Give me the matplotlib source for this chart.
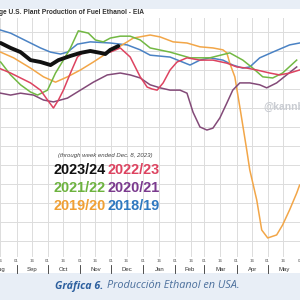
import matplotlib
matplotlib.use("Agg")
import matplotlib.pyplot as plt
from matplotlib.patches import Rectangle
from matplotlib.transforms import blended_transform_factory

# x = days since Aug 1, y = thousand barrels/day (4-week average)
days_2324 = [15.6, 25.2, 34.8, 44.4, 54, 63.7, 71.3, 82.9, 92.5, 102, 111.7, 116.5, 121.3, 129]
vals_2324 = [1071, 1058, 1047, 1026, 1021, 1013, 1026, 1037, 1045, 1050, 1045, 1042, 1053, 1063]

days_2223 = [15.6, 25.2, 34.8, 44.4, 54, 60.8, 66.5, 71.3, 76.1, 82.9, 89.6, 95.3, 108.8, 114.5,
             121.3, 130.9, 140.5, 150.1, 156.8, 161.6, 166.4, 172.2, 178.9, 185.6, 195.2, 207.7,
             220.2, 233.6, 243.2, 252.8, 262.4, 274.9, 284.5, 294.1, 303.7]
vals_2223 = [1003, 992, 979, 966, 947, 921, 900, 921, 947, 992, 1034, 1047, 1047, 1045,
             1047, 1058, 1034, 982, 955, 950, 947, 966, 1000, 1021, 1032, 1026,
             1026, 1018, 1008, 1005, 1000, 992, 987, 992, 1000]

days_2122 = [15.6, 25.2, 34.8, 44.4, 51.2, 60.8, 68.5, 76.1, 82.9, 90.5, 100.1, 106.9, 114.5,
             121.3, 130.9, 140.5, 150.1, 159.7, 178.9, 198.1, 217.3, 236.4, 249, 258.6,
             268.2, 277.8, 287.3, 300.9]
vals_2122 = [1021, 987, 961, 942, 934, 947, 992, 1026, 1058, 1103, 1097, 1079, 1074,
             1084, 1089, 1089, 1079, 1058, 1047, 1032, 1032, 1045, 1026, 1005,
             982, 979, 992, 1026]

days_2021 = [15.6, 25.2, 34.8, 47.3, 56.9, 66.5, 80, 92.5, 105, 118.4, 130.9, 140.5, 150.1,
             159.7, 169.3, 178.9, 188.5, 195.2, 201, 207.7, 214.4, 220.2, 226.9, 233.6,
             239.3, 246.1, 255.7, 265.3, 272, 281.6, 291.2, 300.9]
vals_2021 = [939, 934, 939, 934, 921, 916, 926, 947, 968, 987, 992, 987, 979,
             961, 953, 947, 947, 939, 889, 850, 842, 847, 874, 913,
             947, 966, 966, 961, 953, 966, 987, 1008]

days_1920 = [15.6, 28.1, 44.4, 56.9, 68.5, 80, 92.5, 105, 118.4, 128, 137.6, 143.4, 159.7,
             169.3, 181.8, 195.2, 207.7, 220.2, 229.8, 233.6, 236.4, 241.3, 246.1, 252.8,
             255.7, 262.4, 267.2, 273, 281.6, 287.3, 294.1, 300.9, 303.7]
vals_1920 = [1047, 1032, 1005, 982, 968, 982, 1000, 1021, 1045, 1058, 1074, 1084, 1092,
             1087, 1074, 1071, 1061, 1058, 1053, 1045, 1018, 982, 903, 789,
             737, 658, 579, 558, 566, 592, 632, 676, 697]

days_1819 = [15.6, 25.2, 34.8, 44.4, 54, 63.7, 73.3, 80, 89.6, 102, 121.3, 137.6, 150.1,
             159.7, 178.9, 198.1, 207.7, 217.3, 229.8, 239.3, 249, 255.7, 265.3, 277.8,
             294.1, 303.7]
vals_1819 = [1105, 1097, 1084, 1071, 1058, 1047, 1042, 1047, 1068, 1074, 1071, 1066, 1053,
             1039, 1034, 1013, 1026, 1032, 1026, 1013, 1005, 1008, 1032, 1047,
             1066, 1071]

season_labels = ["2023/24", "2022/23", "2021/22", "2020/21", "2019/20", "2018/19"]
tick_days = [15, 31, 46, 61, 76, 92, 107, 122, 137, 153, 168, 184, 199, 212, 227, 243, 258, 273, 288, 304]
tick_labels = ["16", "01", "16", "01", "16", "01", "16", "01", "16", "01", "16", "01", "16", "01",
               "16", "01", "16", "01", "16", "01"]
month_starts = [0, 31, 61, 92, 122, 153, 184, 212, 243, 273, 304]
month_names = ["Aug", "Sep", "Oct", "Nov", "Dec", "Jan", "Feb", "Mar", "Apr", "May"]

c_2324 = "#111111"
c_2223 = "#dd4360"
c_2122 = "#72b843"
c_2021 = "#834a78"
c_1920 = "#f2a648"
c_1819 = "#4a82c4"

fig = plt.figure(figsize=(3, 3), dpi=100)
fig.patch.set_facecolor("white")
band = "#e8eef6"
fig.add_artist(Rectangle((0, 1 - 9 / 300), 1, 9 / 300, transform=fig.transFigure,
                         facecolor=band, edgecolor="none", zorder=0))
fig.add_artist(Rectangle((0, 0), 1, 27 / 300, transform=fig.transFigure,
                         facecolor=band, edgecolor="none", zorder=0))

ax = fig.add_axes([0, 43 / 300, 1, 239 / 300])
ax.set_facecolor("white")
ax.set_xlim(15.6, 304.1)
ax.set_ylim(507.9, 1136.8)
for s in ax.spines.values():
    s.set_visible(False)

ax.set_xticks(tick_days)
ax.set_xticklabels(tick_labels, fontsize=3.2, color="#555555", family="Liberation Sans")
ax.tick_params(axis="x", length=0, pad=1.5)
ax.set_yticks(range(550, 1150, 50))
ax.tick_params(axis="y", length=0, labelleft=False)
ax.grid(True, color="#dcdcdc", lw=0.7)
ax.set_axisbelow(True)

tr = blended_transform_factory(ax.transData, ax.transAxes)
for i, name in enumerate(month_names):
    mid = (month_starts[i] + month_starts[i + 1]) / 2
    ax.text(mid, -0.052, name, transform=tr, ha="center", va="center", fontsize=4.3,
            color="#333333", family="Liberation Sans", clip_on=False)
for d in month_starts[1:]:
    ax.plot([d, d], [-0.035, -0.065], transform=tr, color="#333333", lw=0.6, clip_on=False)

lw_thin = 1.1
ax.plot(days_1819, vals_1819, color=c_1819, lw=lw_thin, zorder=3)
ax.plot(days_1920, vals_1920, color=c_1920, lw=lw_thin, zorder=3)
ax.plot(days_2021, vals_2021, color=c_2021, lw=lw_thin, zorder=3)
ax.plot(days_2122, vals_2122, color=c_2122, lw=lw_thin, zorder=3)
ax.plot(days_2223, vals_2223, color=c_2223, lw=lw_thin, zorder=4)
ax.plot(days_2324, vals_2324, color=c_2324, lw=2.8, zorder=5, solid_capstyle="round")

# legend-like text block
fig.text(58 / 300, 1 - 156 / 300, "(through week ended Dec. 8, 2023)", fontsize=4.3,
         style="italic", color="#444444", family="Liberation Sans", va="center")
colors = [c_2324, c_2223, "#6db33f", "#7b3a8e", "#f0a035", "#2f78c0"]
xs = [53, 107]
ys = [170, 188, 206]
for i, (lab, col) in enumerate(zip(season_labels, colors)):
    fig.text(xs[i % 2] / 300, 1 - ys[i // 2] / 300, lab, fontsize=10.4, fontweight="bold",
             color=col, family="Liberation Sans", va="center")

fig.text(263 / 300, 1 - 107 / 300, "@kannbis", fontsize=7.5, fontweight="bold",
         color="#c9ccd2", family="Liberation Sans", va="center")

fig.text(-1 / 300, 1 - 13 / 300, "ge U.S. Plant Production of Fuel Ethanol - EIA", fontsize=4.8,
         fontweight="bold", color="#333333", family="Liberation Sans", va="center")

fig.text(55 / 300, 1 - 286 / 300, "Gráfica 6.", fontsize=7.7, fontweight="bold",
         style="italic", color="#2c5f9e", family="Open Sans", va="center")
fig.text(107 / 300, 1 - 286 / 300, "Producción Ethanol en USA.", fontsize=7.8,
         style="italic", color="#4b6f9c", family="Open Sans", va="center", ha="left")

fig.savefig("out.png", dpi=100)
